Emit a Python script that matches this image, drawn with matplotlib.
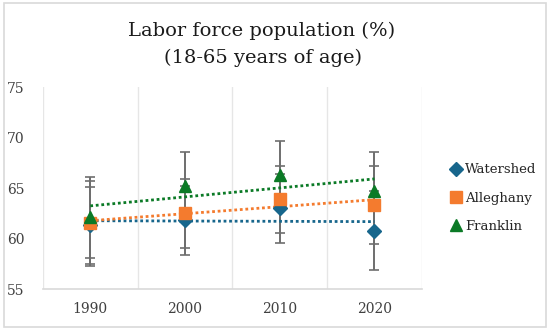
import numpy as np
import matplotlib
matplotlib.use("Agg")
import matplotlib.pyplot as plt
from matplotlib.patches import Rectangle

years = ["1990", "2000", "2010", "2020"]
series_names = ["Watershed", "Alleghany", "Franklin"]
watershed = [61.3, 61.8, 63.0, 60.8]
alleghany = [61.5, 62.5, 63.9, 63.35]
franklin = [62.1, 65.2, 66.3, 64.7]
watershed_err = [3.8, 3.4, 3.4, 3.9]
alleghany_err = [4.2, 3.4, 3.3, 3.85]
franklin_err = [4.0, 3.4, 3.4, 3.9]
yticks = [55, 60, 65, 70, 75]

colors = ["#17668C", "#F47B2E", "#0B7A26"]
markers = ["D", "s", "^"]
msizes = [7, 8, 9]

fig = plt.figure(figsize=(5.5, 3.3), dpi=100)
fig.patches.append(Rectangle((0.007, 0.009), 0.986, 0.982, transform=fig.transFigure,
                             fill=False, edgecolor="#D9D9D9", linewidth=1.2))
ax = fig.add_axes([0.078, 0.124, 0.689, 0.612])

x = np.arange(len(years))
data = [watershed, alleghany, franklin]
errs = [watershed_err, alleghany_err, franklin_err]

for i in range(3):
    ax.errorbar(x, data[i], yerr=errs[i], fmt="none", ecolor="#6E6E6E",
                elinewidth=1.4, capsize=3.5, capthick=1.2, zorder=2)

for i in range(3):
    coef = np.polyfit(x, data[i], 1)
    ax.plot(x, np.polyval(coef, x), linestyle=(0, (1, 1)), color=colors[i],
            linewidth=2.0, zorder=3)

for i in range(3):
    ax.plot(x, data[i], linestyle="none", marker=markers[i], color=colors[i],
            markersize=msizes[i], label=series_names[i], zorder=4)

ax.set_xlim(-0.5, 3.5)
ax.set_ylim(55, 75)
ax.set_yticks(yticks)
ax.set_xticks(x)
ax.set_xticklabels(years)
ax.set_xticks(np.arange(-0.5, 4, 1), minor=True)
ax.grid(True, which="minor", axis="x", color="#E6E6E6", linewidth=1)
ax.tick_params(which="both", length=0)
ax.tick_params(axis="y", pad=13)
ax.tick_params(axis="x", pad=9)
for lab in ax.get_xticklabels() + ax.get_yticklabels():
    lab.set_fontfamily("DejaVu Serif")
    lab.set_fontsize(10)
    lab.set_color("#404040")
for s in ["left", "top", "right"]:
    ax.spines[s].set_visible(False)
ax.spines["bottom"].set_color("#D9D9D9")
ax.spines["bottom"].set_linewidth(1.2)

fig.text(0.476, 0.907, "Labor force population (%)", ha="center", va="center",
         fontfamily="DejaVu Serif", fontsize=14, color="#1A1A1A")
fig.text(0.478, 0.825, "(18-65 years of age)", ha="center", va="center",
         fontfamily="DejaVu Serif", fontsize=14, color="#1A1A1A")

leg = fig.legend(loc="center left", bbox_to_anchor=(0.81, 0.40), frameon=False,
                 prop={"family": "DejaVu Serif", "size": 9.5}, handlelength=0.8,
                 handletextpad=0.3, labelspacing=1.15, borderaxespad=0)
for t in leg.get_texts():
    t.set_color("#262626")

fig.savefig("out.png", dpi=100)
